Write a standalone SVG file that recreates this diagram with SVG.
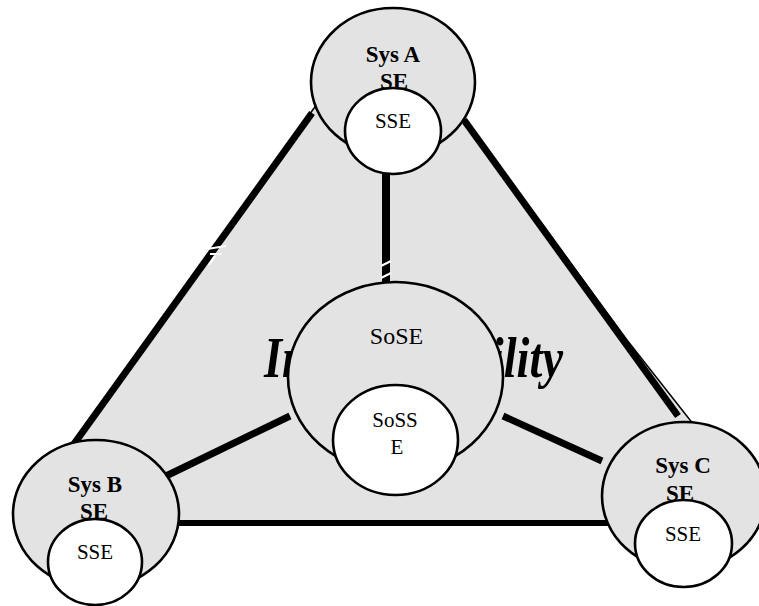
<svg xmlns="http://www.w3.org/2000/svg" width="759" height="606" viewBox="0 0 759 606">
<style>
.bg{fill:#fff}
.tri{fill:#e3e3e3;stroke:#000;stroke-width:1.5}
.big{fill:#e3e3e3;stroke:#000;stroke-width:2.6}
.small{fill:#fff;stroke:#000;stroke-width:2.6}
.link{stroke:#000;stroke-width:7;stroke-linecap:butt;fill:none}
.gap{stroke:#fff;stroke-width:2.2;fill:none}
.lbl{font-family:"Liberation Serif","Times New Roman",serif;fill:#000;text-anchor:middle}
.sys{font-size:23px;font-weight:bold}
.sse{font-size:21px}
.sose{font-size:24px}
.big-word{font-family:"Liberation Serif","Times New Roman",serif;font-size:56px;font-style:italic;font-weight:bold;fill:#000}
</style>
<rect class="bg" x="0" y="0" width="759" height="606"/>
<g id="field">
<polygon class="tri" points="385,10 627,340 690,420 771,523 14,523"/>
<text class="big-word" x="264" y="377" textLength="299" lengthAdjust="spacingAndGlyphs">Interoperability</text>
</g>
<g id="connectors">
<line class="link" x1="312" y1="113" x2="74" y2="444"/>
<line class="link" x1="464" y1="120" x2="678" y2="416"/>
<line class="link" x1="175" y1="523" x2="612" y2="523" style="stroke-width:6"/>
<line class="link" x1="386" y1="165" x2="386" y2="286" style="stroke-width:8"/>
<line class="link" x1="166" y1="476" x2="290" y2="416"/>
<line class="link" x1="503" y1="416" x2="602" y2="461"/>
<path class="gap" d="M207,249 L226,246 M210,254 L222,254 M215,256 L209,265"/>
<path class="gap" d="M381,266 L391,261 M381,278 L391,273"/>
</g>
<g id="sys-a">
<ellipse class="big" cx="393" cy="82" rx="82" ry="74"/>
<text class="lbl sys" x="393" y="62">Sys A</text>
<text class="lbl sys" x="394" y="89">SE</text>
<ellipse class="small" cx="393" cy="131" rx="48" ry="43"/>
<text class="lbl sse" x="393" y="128">SSE</text>
</g>
<g id="sys-b">
<ellipse class="big" cx="96" cy="514" rx="83" ry="74"/>
<text class="lbl sys" x="95" y="492">Sys B</text>
<text class="lbl sys" x="94" y="519">SE</text>
<ellipse class="small" cx="95" cy="562" rx="47" ry="43"/>
<text class="lbl sse" x="95" y="559">SSE</text>
</g>
<g id="sys-c">
<ellipse class="big" cx="684" cy="496" rx="82" ry="74"/>
<text class="lbl sys" x="683" y="473">Sys C</text>
<text class="lbl sys" x="680" y="501">SE</text>
<ellipse class="small" cx="683.5" cy="543.5" rx="48.5" ry="43.5"/>
<text class="lbl sse" x="683" y="541">SSE</text>
</g>
<g id="sose">
<ellipse class="big" cx="395.5" cy="377" rx="107.5" ry="95"/>
<text class="lbl sose" x="396.5" y="344">SoSE</text>
<ellipse class="small" cx="395.5" cy="440" rx="62.5" ry="55"/>
<text class="lbl sse" x="395" y="427">SoSS</text>
<text class="lbl sse" x="397" y="454">E</text>
</g>
</svg>
